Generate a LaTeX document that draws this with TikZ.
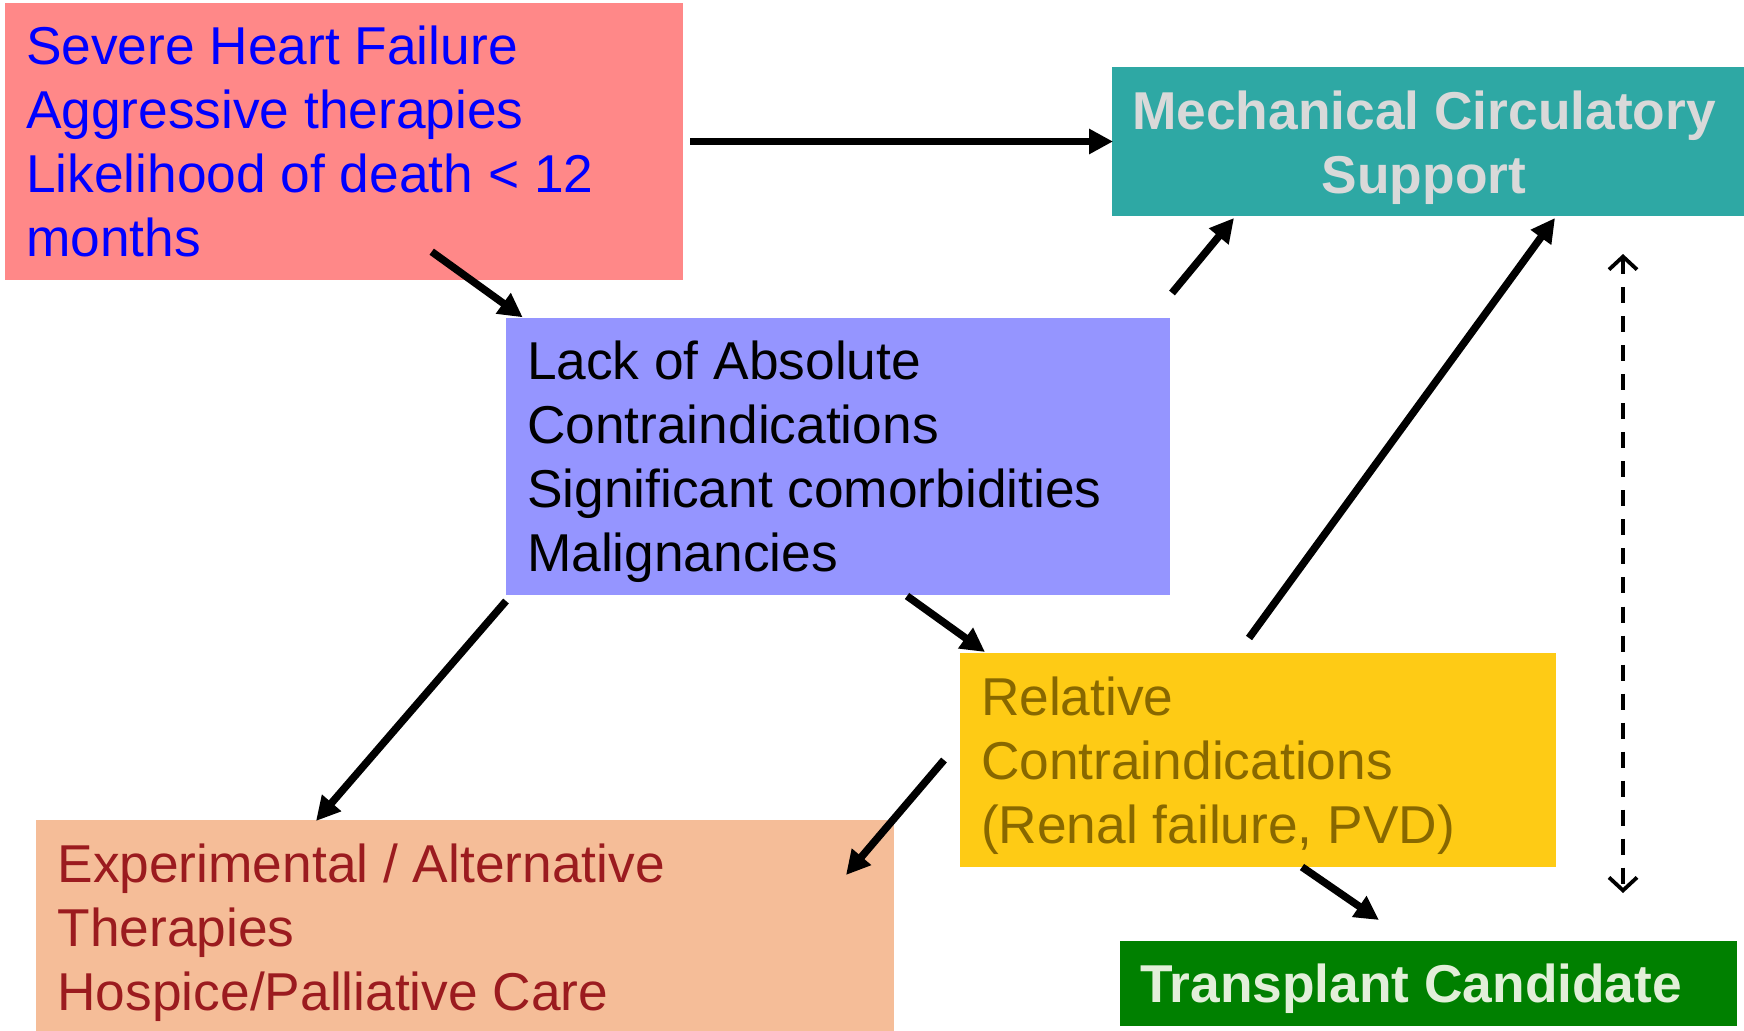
\documentclass[tikz,border=0pt]{standalone}
\usepackage{fontspec}
\setmainfont{Liberation Sans}
\usetikzlibrary{arrows.meta}
\definecolor{redbox}{RGB}{255,136,136}
\definecolor{tealbox}{RGB}{46,168,164}
\definecolor{tealtext}{RGB}{217,217,217}
\definecolor{bluebox}{RGB}{149,149,255}
\definecolor{yellowbox}{RGB}{254,203,21}
\definecolor{yellowtext}{RGB}{136,104,0}
\definecolor{peachbox}{RGB}{245,189,152}
\definecolor{peachtext}{RGB}{155,27,31}
\definecolor{greenbox}{RGB}{0,128,0}
\definecolor{greentext}{RGB}{226,239,217}
\tikzset{
  box/.style={draw=none, anchor=north west, inner sep=0pt, outer sep=0pt},
  txt/.style={anchor=north west, inner sep=0pt, outer sep=0pt, align=left,
    font=\fontsize{53.3}{64}\selectfont},
  ctxt/.style={anchor=north, inner sep=0pt, outer sep=0pt, align=center,
    font=\fontsize{53.3}{64}\selectfont\bfseries},
  flow/.style={line width=7.5pt, -{Triangle[length=24pt,width=24pt]}},
  link/.style={line width=3.5pt, dash pattern=on 16pt off 13pt,
    {Straight Barb[length=13pt,width=28pt,line width=3.8pt]}-{Straight Barb[length=13pt,width=28pt,line width=3.8pt]}}
}
\begin{document}
\begin{tikzpicture}[x=1pt,y=-1pt]
\useasboundingbox[fill=white] (0,0) rectangle (1744,1030);
% boxes
\node[box, fill=redbox, minimum width=678pt, minimum height=277pt] (sev) at (5,3) {};
\node[box, fill=tealbox, minimum width=633pt, minimum height=149pt] (mcs) at (1111.5,66.7) {};
\node[box, fill=bluebox, minimum width=664pt, minimum height=277pt] (lack) at (506,318) {};
\node[box, fill=yellowbox, minimum width=596pt, minimum height=214pt] (rel) at (959.6,652.7) {};
\node[box, fill=peachbox, minimum width=858pt, minimum height=211pt] (exp) at (36,820) {};
\node[box, fill=greenbox, minimum width=617pt, minimum height=85pt] (tc) at (1119.7,940.7) {};
% texts
\node[txt, text=blue] (sevt) at (26,19.2) {\strut Severe Heart Failure\\Aggressive therapies\\Likelihood of death < 12\\months};
\node[ctxt, text=tealtext] (mcst) at (1424,84.2) {\strut Mechanical Circulatory\\Support};
\node[txt, text=black] (lackt) at (527,334.7) {\strut Lack of Absolute\\Contraindications\\Significant comorbidities\\Malignancies};
\node[txt, text=yellowtext] (relt) at (981,670.2) {\strut Relative\\Contraindications\\(Renal failure, PVD)};
\node[txt, text=peachtext] (expt) at (57.5,837.2) {\strut Experimental / Alternative\\Therapies\\Hospice/Palliative Care};
\node[txt, text=greentext, font=\fontsize{53.3}{64}\selectfont\bfseries] (tct) at (1140,957.2) {\strut Transplant Candidate};
% arrow end points
\coordinate (a1s) at (690,141.5);  \coordinate (a1e) at (1113,141.5);
\coordinate (a2s) at (431.7,251.7); \coordinate (a2e) at (522.7,317.3);
\coordinate (a3s) at (1172,293);   \coordinate (a3e) at (1234,218);
\coordinate (a4s) at (1249,638);   \coordinate (a4e) at (1555,218);
\coordinate (a5s) at (907,596);    \coordinate (a5e) at (985,652);
\coordinate (a6s) at (506,601);    \coordinate (a6e) at (316,821);
\coordinate (a7s) at (944,760);    \coordinate (a7e) at (846,875);
\coordinate (a8s) at (1302,867);   \coordinate (a8e) at (1379,920);
\coordinate (d1) at (1623,254);    \coordinate (d2) at (1623,893);
% connectors
\draw[flow] (a1s) -- (a1e);
\draw[flow] (a2s) -- (a2e);
\draw[flow] (a3s) -- (a3e);
\draw[flow] (a4s) -- (a4e);
\draw[flow] (a5s) -- (a5e);
\draw[flow] (a6s) -- (a6e);
\draw[flow] (a7s) -- (a7e);
\draw[flow] (a8s) -- (a8e);
\draw[link] (d1) -- (d2);
\end{tikzpicture}
\end{document}
